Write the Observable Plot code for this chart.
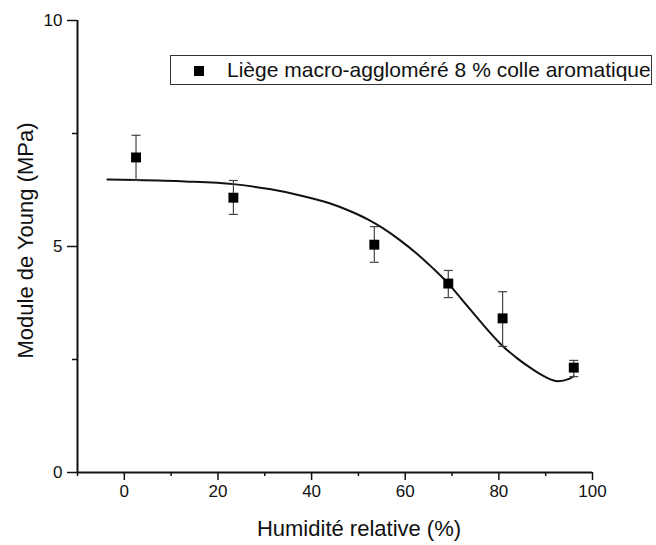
<!DOCTYPE html>
<html>
<head>
<meta charset="utf-8">
<script src="https://cdn.jsdelivr.net/npm/d3@7"></script>
<script src="https://cdn.jsdelivr.net/npm/@observablehq/plot@0.6"></script>
<style>
  body { margin: 0; background: #fff; font-family: "Liberation Sans", Arial, sans-serif; }
  #wrap { position: relative; width: 656px; height: 545px; }
  #legend { position: absolute; left: 170px; top: 55px; width: 480px; height: 28px;
    border: 1px solid #333; background: #fff; box-sizing: content-box; }
  #legend .sw { position: absolute; left: 23px; top: 10px; width: 10px; height: 10px; background: #000; }
  #legend .tx { position: absolute; left: 56px; top: 3px; font-size: 21px; line-height: 22px; color: #111; white-space: nowrap; }
</style>
</head>
<body>
<div id="wrap"></div>
<script>
// Measured points
const humidity = [2.5, 23.3, 53.4, 69.2, 80.8, 96.0];
const modulus  = [6.97, 6.08, 5.04, 4.18, 3.41, 2.32];
const errLow   = [6.46, 5.71, 4.65, 3.87, 2.79, 2.12];
const errHigh  = [7.46, 6.46, 5.44, 4.47, 4.00, 2.48];

// Fitted curve
const fitX = [-3.6, 2.5, 13.0, 23.3, 31.0, 37.6, 44.0, 48.3, 52.0, 55.3, 59.0, 62.5, 66.0, 69.2, 73.2, 76.8, 80.8, 84.0, 87.4, 89.8, 92.6, 95.0, 96.0];
const fitY = [6.48, 6.47, 6.44, 6.38, 6.27, 6.13, 5.95, 5.78, 5.60, 5.40, 5.13, 4.84, 4.51, 4.18, 3.69, 3.25, 2.80, 2.52, 2.27, 2.12, 2.02, 2.07, 2.13];

// Ticks
const xMajor = [0, 20, 40, 60, 80, 100];
const xMinor = [-10, 10, 30, 50, 70, 90];
const yMajor = [0, 5, 10];
const yMinor = [2.5, 7.5];

const xLabel = "Humidité relative (%)";
const yLabel = "Module de Young (MPa)";
const legendLabel = "Liège macro-aggloméré 8 % colle aromatique";

const pts = humidity.map((h, i) => ({x: h, y: modulus[i], lo: errLow[i], hi: errHigh[i]}));
const fit = fitX.map((x, i) => ({x, y: fitY[i]}));

const capSymbol = {
  draw(context, size) {
    const r = Math.sqrt(size / Math.PI);
    context.moveTo(-r, 0);
    context.lineTo(r, 0);
  }
};

const font = "Liberation Sans, Arial, sans-serif";

const chart = Plot.plot({
  width: 656,
  height: 545,
  marginLeft: 77,
  marginRight: 64,
  marginTop: 20,
  marginBottom: 73,
  style: {fontFamily: font, background: "#fff", color: "#111"},
  x: {domain: [-10, 100], axis: null},
  y: {domain: [0, 10], axis: null},
  marks: [
    Plot.axisX({ticks: xMajor, tickSize: 8, tickPadding: 4, fontSize: 17, strokeWidth: 1.5, label: null}),
    Plot.axisX({ticks: xMinor, tickSize: 4, tickFormat: () => "", strokeWidth: 1.5, label: null}),
    Plot.axisY({ticks: yMajor, tickSize: 10, tickPadding: 5, fontSize: 17, strokeWidth: 1.5, label: null}),
    Plot.axisY({ticks: yMinor, tickSize: 5, tickFormat: () => "", strokeWidth: 1.5, label: null}),
    Plot.ruleY([0], {stroke: "#111", strokeWidth: 2}),
    Plot.ruleX([-10], {stroke: "#111", strokeWidth: 2}),
    Plot.text([xLabel], {frameAnchor: "bottom", textAnchor: "middle", lineAnchor: "middle", dx: 24, dy: 56, fontSize: 22, fill: "#111"}),
    Plot.text([yLabel], {frameAnchor: "left", textAnchor: "middle", lineAnchor: "middle", dx: -52, dy: -6, rotate: -90, fontSize: 22, fill: "#111"}),
    Plot.line(fit, {x: "x", y: "y", curve: "monotone-x", stroke: "#111", strokeWidth: 2}),
    Plot.ruleX(pts, {x: "x", y1: "lo", y2: "hi", stroke: "#444", strokeWidth: 1.2}),
    Plot.dot(pts, {x: "x", y: "hi", symbol: capSymbol, r: 4.5, stroke: "#444", strokeWidth: 1.2, fill: "none"}),
    Plot.dot(pts, {x: "x", y: "lo", symbol: capSymbol, r: 4.5, stroke: "#444", strokeWidth: 1.2, fill: "none"}),
    Plot.dot(pts, {x: "x", y: "y", symbol: "square", r: 5.6, fill: "#000", stroke: "none"})
  ]
});

const wrap = document.getElementById("wrap");
wrap.appendChild(chart);
const legend = document.createElement("div");
legend.id = "legend";
legend.innerHTML = '<div class="sw"></div><div class="tx"></div>';
legend.querySelector(".tx").textContent = legendLabel;
wrap.appendChild(legend);
</script>
</body>
</html>
